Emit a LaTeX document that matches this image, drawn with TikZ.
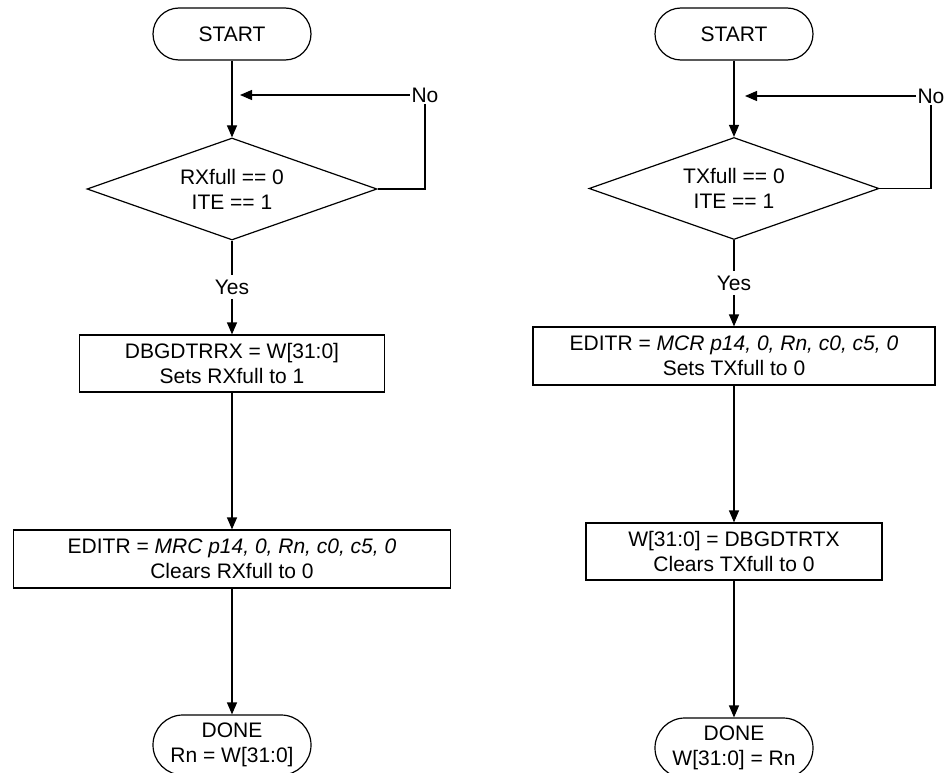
\documentclass[tikz,border=0pt]{standalone}
\usepackage{fontspec}
\setmainfont{Liberation Sans}
\usetikzlibrary{arrows.meta,shapes.geometric}
\begin{document}
\begin{tikzpicture}[x=1pt,y=-1pt, line width=1.2pt,
  font=\fontsize{21}{25}\selectfont,
  term/.style={draw, rectangle, rounded corners=26pt, minimum width=158pt,
    minimum height=52pt, inner sep=0pt, align=center},
  done/.style={term, rounded corners=30pt, minimum height=60pt},
  proc/.style={draw, rectangle, inner sep=0pt, align=center},
  dec/.style={draw, diamond, shape aspect=2.84, minimum width=290pt,
    minimum height=102pt, inner sep=0pt, align=center},
  lbl/.style={inner sep=1pt},
  ylbl/.style={inner sep=4pt},
  arr/.style={-{Triangle[length=12pt,width=10pt]}}]
\clip (0,0) rectangle (951,773);
% left flow
\node[term] (s1) at (232,34) {START};
\node[dec] (d1) at (232,189) {RXfull == 0\\ITE == 1};
\node[ylbl] (y1) at (232,287) {Yes};
\node[proc, minimum width=305pt, minimum height=57pt] (b1) at (232,363.5)
  {DBGDTRRX = W[31:0]\\Sets RXfull to 1};
\node[proc, minimum width=437pt, minimum height=58pt] (c1) at (232,559)
  {EDITR = \textit{MRC p14, 0, Rn, c0, c5, 0}\\Clears RXfull to 0};
\node[done] (e1) at (232,745) {DONE\\Rn = W[31:0]};
\node[lbl] (n1) at (425,95) {No};
\coordinate (m1) at (240,95);
\draw[arr] (s1.south) -- (d1.north);
\draw[arr] (n1.west) -- (m1);
\draw (n1.south) |- (d1.east);
\draw (d1.south) -- (y1.north);
\draw[arr] (y1.south) -- (b1.north);
\draw[arr] (b1.south) -- (c1.north);
\draw[arr] (c1.south) -- (e1.north);
% right flow
\node[term] (s2) at (734,34) {START};
\node[dec] (d2) at (734,188.5) {TXfull == 0\\ITE == 1};
\node[ylbl] (y2) at (734,283) {Yes};
\node[proc, minimum width=402pt, minimum height=58pt] (b2) at (734,356)
  {EDITR = \textit{MCR p14, 0, Rn, c0, c5, 0}\\Sets TXfull to 0};
\node[proc, minimum width=296pt, minimum height=57pt] (c2) at (734,551.5)
  {W[31:0] = DBGDTRTX\\Clears TXfull to 0};
\node[done] (e2) at (734,748) {DONE\\W[31:0] = Rn};
\node[lbl] (n2) at (931,96) {No};
\coordinate (m2) at (745,96);
\draw[arr] (s2.south) -- (d2.north);
\draw[arr] (n2.west) -- (m2);
\draw (n2.south) |- (d2.east);
\draw (d2.south) -- (y2.north);
\draw[arr] (y2.south) -- (b2.north);
\draw[arr] (b2.south) -- (c2.north);
\draw[arr] (c2.south) -- (e2.north);
\end{tikzpicture}
\end{document}
